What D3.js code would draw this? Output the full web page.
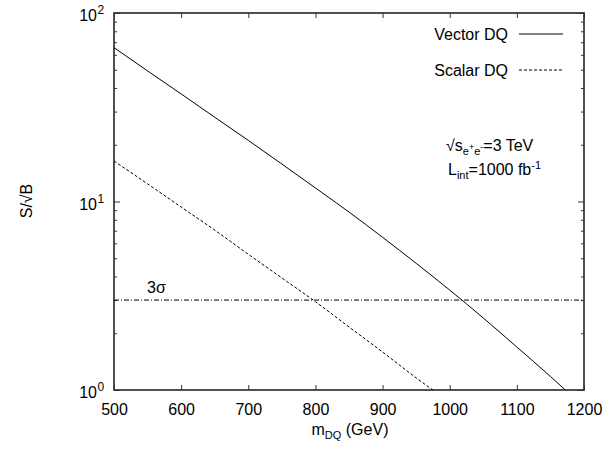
<!DOCTYPE html>
<html>
<head>
<meta charset="utf-8">
<script src="https://cdn.jsdelivr.net/npm/d3@7"></script>
<style>
  body { margin: 0; background: #fff; }
  svg { display: block; font-family: "Liberation Sans", Arial, sans-serif; }
</style>
</head>
<body>
<svg id="chart" width="604" height="452"></svg>
<script>
// ---- data ----
const massVector = [500, 550, 600, 650, 700, 750, 800, 850, 900, 950, 1000, 1050, 1100, 1150, 1175];
const sigVector  = [65.5, 49.3, 37.2, 28.0, 21.1, 15.8, 11.8, 8.79, 6.46, 4.70, 3.39, 2.41, 1.69, 1.18, 0.98];
const massScalar = [500, 550, 600, 650, 700, 750, 800, 850, 900, 950, 980];
const sigScalar  = [16.4, 12.4, 9.35, 7.05, 5.25, 3.93, 2.94, 2.16, 1.59, 1.16, 0.97];
const threeSigma = 3;
const xTicks = [500, 600, 700, 800, 900, 1000, 1100, 1200];
const yMajor = [1, 10, 100];
const yExp = ["0", "1", "2"];
const yMinor = [2,3,4,5,6,7,8,9,20,30,40,50,60,70,80,90];
const seriesNames = ["Vector DQ", "Scalar DQ"];

// ---- layout ----
const L = 114, R = 584, T = 13, B = 390;
const svg = d3.select("#chart");
const x = d3.scaleLinear().domain([500, 1200]).range([L, R]);
const y = d3.scaleLog().domain([1, 100]).range([B, T]);
const frameColor = "#333";
const fs = 16;

svg.append("defs").append("clipPath").attr("id", "clip")
  .append("rect").attr("x", L).attr("y", T).attr("width", R - L).attr("height", B - T);

function styleAxis(g) {
  g.select(".domain").remove();
  g.selectAll(".tick line").attr("stroke", frameColor).attr("stroke-width", 1);
}

// x axes (bottom with labels, top without)
const gxB = svg.append("g").attr("transform", `translate(0,${B})`)
  .call(d3.axisBottom(x).tickValues(xTicks).tickSize(-5).tickPadding(14).tickFormat(d3.format("d")));
styleAxis(gxB);
gxB.selectAll("text").attr("font-size", fs).attr("fill", "#000").attr("font-family", "Liberation Sans, Arial, sans-serif");
const gxT = svg.append("g").attr("transform", `translate(0,${T})`)
  .call(d3.axisTop(x).tickValues(xTicks).tickSize(-5).tickFormat(""));
styleAxis(gxT);

// y axes
const gyL = svg.append("g").attr("transform", `translate(${L},0)`)
  .call(d3.axisLeft(y).tickValues(yMajor).tickSize(-6).tickFormat(""));
styleAxis(gyL);
const gyLm = svg.append("g").attr("transform", `translate(${L},0)`)
  .call(d3.axisLeft(y).tickValues(yMinor).tickSize(-3).tickFormat(""));
styleAxis(gyLm);
const gyR = svg.append("g").attr("transform", `translate(${R},0)`)
  .call(d3.axisRight(y).tickValues(yMajor).tickSize(-6).tickFormat(""));
styleAxis(gyR);
const gyRm = svg.append("g").attr("transform", `translate(${R},0)`)
  .call(d3.axisRight(y).tickValues(yMinor).tickSize(-3).tickFormat(""));
styleAxis(gyRm);

// y tick labels with superscripts
yMajor.forEach((v, i) => {
  const t = svg.append("text")
    .attr("x", 97).attr("y", y(v) + 8)
    .attr("text-anchor", "end").attr("font-size", fs).attr("fill", "#000");
  t.append("tspan").text("10");
  svg.append("text")
    .attr("x", 97.5).attr("y", y(v) + 1)
    .attr("font-size", 12).attr("fill", "#000").text(yExp[i]);
});

// frame
svg.append("rect").attr("x", L).attr("y", T).attr("width", R - L).attr("height", B - T)
  .attr("fill", "none").attr("stroke", frameColor).attr("stroke-width", 1.7);

// lines
const line = d3.line().x(d => x(d[0])).y(d => y(d[1])).curve(d3.curveMonotoneX);
const plot = svg.append("g").attr("clip-path", "url(#clip)");

plot.append("path").datum(massVector.map((m, i) => [m, sigVector[i]]))
  .attr("d", line).attr("fill", "none").attr("stroke", "#000").attr("stroke-width", 1);
plot.append("path").datum(massScalar.map((m, i) => [m, sigScalar[i]]))
  .attr("d", line).attr("fill", "none").attr("stroke", "#000").attr("stroke-width", 1)
  .attr("stroke-dasharray", "3,2");
plot.append("line").attr("x1", x(500)).attr("x2", x(1200))
  .attr("y1", y(threeSigma)).attr("y2", y(threeSigma))
  .attr("stroke", "#000").attr("stroke-width", 1).attr("stroke-dasharray", "5,2,1,2");

// 3 sigma label
svg.append("text").attr("x", 147).attr("y", 293).attr("font-size", fs).attr("fill", "#000").text("3σ");

// legend
const legY = [34, 70];
const dashes = [null, "3,2"];
seriesNames.forEach((n, i) => {
  svg.append("text").attr("x", 508).attr("y", legY[i] + 6).attr("text-anchor", "end")
    .attr("font-size", fs).attr("fill", "#000").text(n);
  const l = svg.append("line").attr("x1", 519).attr("x2", 563).attr("y1", legY[i]).attr("y2", legY[i])
    .attr("stroke", "#000").attr("stroke-width", 1);
  if (dashes[i]) l.attr("stroke-dasharray", dashes[i]);
});

// annotation
const a1 = svg.append("text").attr("x", 446).attr("y", 151).attr("font-size", fs).attr("fill", "#000");
a1.append("tspan").text("√s");
a1.append("tspan").attr("font-size", 11).attr("dy", 4).text("e");
a1.append("tspan").attr("font-size", 9).attr("dy", -5).text("+");
a1.append("tspan").attr("font-size", 11).attr("dy", 5).text("e");
a1.append("tspan").attr("font-size", 9).attr("dy", -5).text("-");
a1.append("tspan").attr("dy", 1).text("=3 TeV");

const a2 = svg.append("text").attr("x", 448).attr("y", 175).attr("font-size", fs).attr("fill", "#000");
a2.append("tspan").text("L");
a2.append("tspan").attr("font-size", 11).attr("dy", 4).text("int");
a2.append("tspan").attr("dy", -4).text("=1000 fb");
a2.append("tspan").attr("font-size", 11).attr("dy", -6).text("-1");

// axis titles
const xt = svg.append("text").attr("x", 350).attr("y", 435).attr("text-anchor", "middle")
  .attr("font-size", fs).attr("fill", "#000");
xt.append("tspan").text("m");
xt.append("tspan").attr("font-size", 11).attr("dy", 4).text("DQ");
xt.append("tspan").attr("dy", -4).text(" (GeV)");

svg.append("text").attr("transform", "translate(32,201) rotate(-90)")
  .attr("text-anchor", "middle").attr("font-size", fs).attr("fill", "#000").text("S/√B");
</script>
</body>
</html>
